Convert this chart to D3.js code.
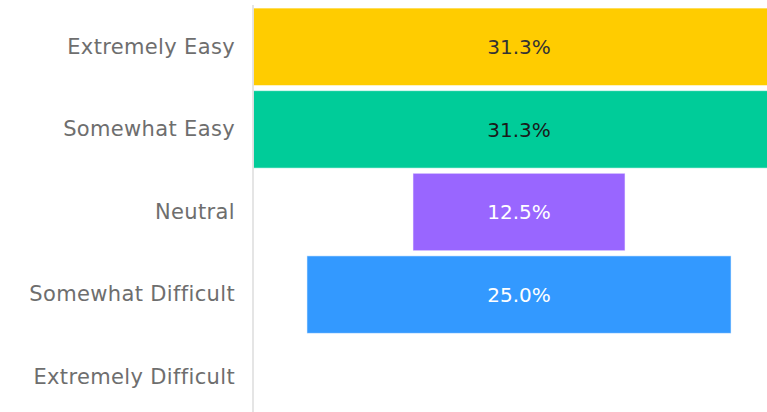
<!DOCTYPE html>
<html>
<head>
<meta charset="utf-8">
<script src="https://cdn.jsdelivr.net/npm/d3@7/dist/d3.min.js"></script>
<style>
  html, body { margin: 0; padding: 0; background: #fff; }
  svg { display: block; }
</style>
</head>
<body>
<svg id="chart" width="767" height="412"></svg>
<script>
// Survey responses: how easy was it?
const categories = ["Extremely Easy", "Somewhat Easy", "Neutral", "Somewhat Difficult", "Extremely Difficult"];
const values = [31.3, 31.3, 12.5, 25.0, 0];
const colors = ["#FFCC00", "#00CC99", "#9966FF", "#3399FF", "#FF6666"];
const labelColors = ["#333333", "#1a1a1a", "#ffffff", "#ffffff", "#ffffff"];

const W = 767, H = 412;
const svg = d3.select("#chart");
const font = "'DejaVu Sans', sans-serif";

const maxVal = d3.max(values);
const axisX = 253;

// Centered (funnel) layout: each bar spans x(-v/2) .. x(v/2)
const x = d3.scaleLinear()
  .domain([-maxVal / 2, maxVal / 2])
  .range([axisX + 0.5, axisX + 531.5]);

const y = d3.scaleBand()
  .domain(categories)
  .range([5.5, 418.5])
  .paddingInner(0.062)
  .paddingOuter(0.031);

const data = categories.map((c, i) => ({ cat: c, v: values[i], color: colors[i], lc: labelColors[i] }));

const plot = svg.append("g");
plot.append("clipPath").attr("id", "plotClip")
  .append("rect").attr("x", axisX).attr("y", 0).attr("width", W - axisX).attr("height", H);

const bars = plot.append("g").attr("clip-path", "url(#plotClip)");

bars.selectAll("rect")
  .data(data.filter(d => d.v > 0))
  .join("rect")
  .attr("x", d => x(-d.v / 2))
  .attr("width", d => x(d.v / 2) - x(-d.v / 2))
  .attr("y", d => y(d.cat))
  .attr("height", y.bandwidth())
  .attr("fill", d => d.color)
  .attr("stroke", "rgba(255,255,255,0.55)")
  .attr("stroke-width", 1);

// value labels at the bar centers
bars.selectAll("text")
  .data(data.filter(d => d.v > 0))
  .join("text")
  .attr("x", x(0))
  .attr("y", d => y(d.cat) + y.bandwidth() / 2)
  .attr("dy", "0.36em")
  .attr("text-anchor", "middle")
  .attr("font-family", font)
  .attr("font-size", 20)
  .attr("fill", d => d.lc)
  .text(d => d.v.toFixed(1) + "%");

// category axis
const yAxis = d3.axisLeft(y).tickSize(0).tickPadding(18);
const ag = svg.append("g")
  .attr("transform", `translate(${axisX},0)`)
  .call(yAxis);
ag.select(".domain").remove();
ag.selectAll("text")
  .attr("font-family", font)
  .attr("font-size", 21)
  .attr("letter-spacing", 0.35)
  .attr("fill", "#6e6e6e");

svg.append("line")
  .attr("x1", axisX).attr("x2", axisX)
  .attr("y1", 5).attr("y2", H)
  .attr("stroke", "#dddddd")
  .attr("stroke-width", 1.5);
</script>
</body>
</html>
